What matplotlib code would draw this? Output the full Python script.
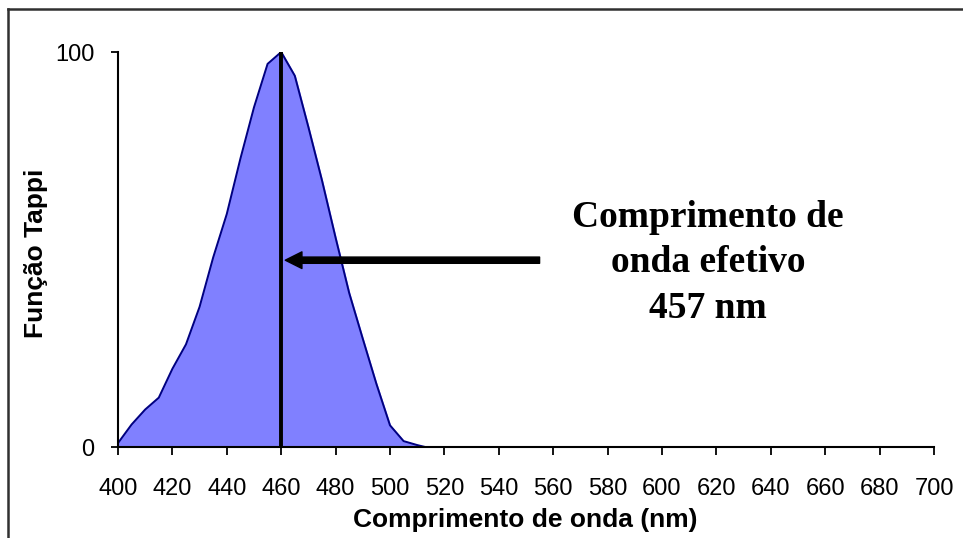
import matplotlib
matplotlib.use("Agg")
import matplotlib.pyplot as plt
from matplotlib.lines import Line2D

# Tappi function curve (5 nm steps)
wavelength = [400, 405, 410, 415, 420, 425, 430, 435, 440, 445, 450, 455,
              460, 465, 470, 475, 480, 485, 490, 495, 500, 505, 510, 513]
tappi = [1, 5.7, 9.5, 12.5, 19.8, 26, 35.5, 48, 59, 73, 86, 97,
         100, 94, 81, 67.5, 53, 39, 27.4, 16, 5.5, 1.5, 0.5, 0]

effective_line = 460
arrow_y = 47.3
arrow_tail = 555
x_ticks = list(range(400, 701, 20))
y_ticks = [0, 100]

label_text = "Comprimento de\nonda efetivo\n457 nm"
xlabel = "Comprimento de onda (nm)"
ylabel = "Função Tappi"

tick_font = ["Liberation Sans", "DejaVu Sans"]
label_font = ["Liberation Sans", "DejaVu Sans"]

fig = plt.figure(figsize=(9.63, 5.38), dpi=100)
ax = fig.add_axes([0.1225, 0.1691, 0.8474, 0.7342])

ax.fill_between(wavelength, tappi, 0, color="#8080ff", zorder=1)
ax.plot(wavelength, tappi, color="#000080", lw=1.4, zorder=2)
ax.plot([effective_line, effective_line], [0, 100], color="black", lw=2.8, zorder=3)

ax.annotate("", xy=(effective_line + 1.5, arrow_y), xytext=(arrow_tail, arrow_y),
            arrowprops=dict(facecolor="black", edgecolor="black", width=4.5,
                            headwidth=12, headlength=12, shrink=0), zorder=4)

ax.text(617, 62.5, label_text, ha="center", va="top", fontsize=27,
        family=["Liberation Serif", "DejaVu Serif"], fontweight="bold",
        linespacing=1.38, multialignment="center")

ax.set_xlim(400, 700)
ax.set_ylim(0, 100)
ax.set_xticks(x_ticks)
ax.set_yticks(y_ticks)
ax.set_xticklabels([str(t) for t in x_ticks], family=tick_font, fontsize=17)
ax.set_yticklabels([str(t) for t in y_ticks], family=tick_font, fontsize=17)
ax.tick_params(axis="x", direction="out", length=6, width=1.3, pad=16)
ax.tick_params(axis="y", direction="out", length=5, width=1.3, pad=12)

for s in ["top", "right"]:
    ax.spines[s].set_visible(False)
for s in ["left", "bottom"]:
    ax.spines[s].set_linewidth(1.5)
    ax.spines[s].set_color("black")

ax.set_xlabel(xlabel, family=label_font, fontweight="bold", fontsize=19)
ax.set_ylabel(ylabel, family=label_font, fontweight="bold", fontsize=19)
ax.xaxis.set_label_coords(0.499, -0.155)
ax.yaxis.set_label_coords(-0.086, 0.491)

# chart area border (top and left edges visible)
fig.add_artist(Line2D([8 / 963, 1], [1 - 9 / 538, 1 - 9 / 538], color="#303030", lw=1.8))
fig.add_artist(Line2D([8 / 963, 8 / 963], [0, 1 - 9 / 538], color="#303030", lw=1.8))

fig.savefig("out.png", dpi=100)
